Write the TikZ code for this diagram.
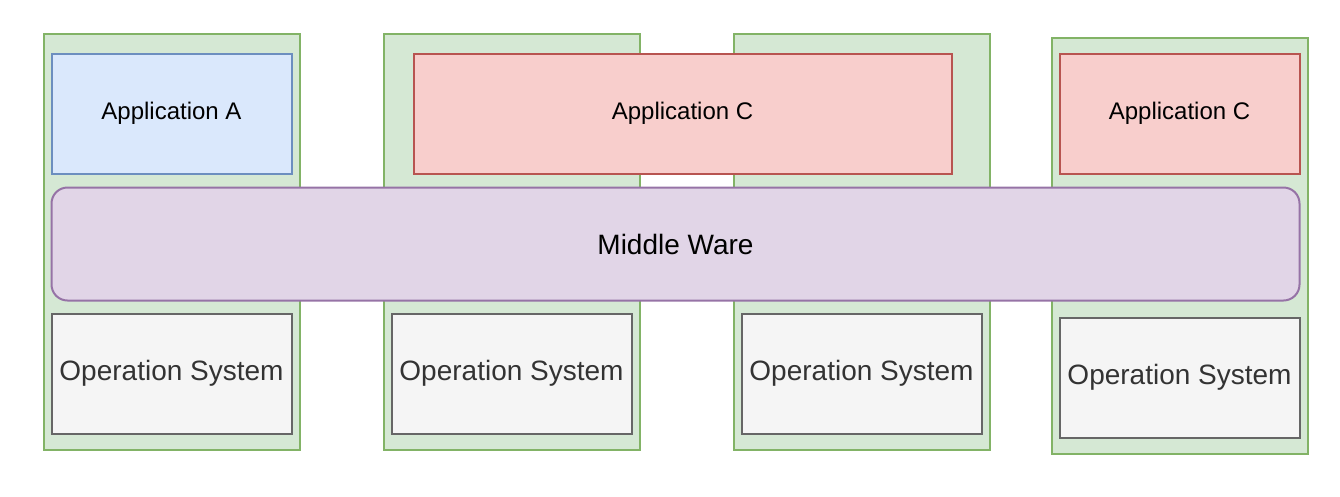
\documentclass[tikz,border=0pt]{standalone}
\usepackage{fontspec}
\setmainfont{Liberation Sans}
\definecolor{gfill}{HTML}{D5E8D4}
\definecolor{gline}{HTML}{82B366}
\definecolor{bfill}{HTML}{DAE8FC}
\definecolor{bline}{HTML}{6C8EBF}
\definecolor{rfill}{HTML}{F8CECC}
\definecolor{rline}{HTML}{B85450}
\definecolor{pfill}{HTML}{E1D5E7}
\definecolor{pline}{HTML}{9673A6}
\definecolor{ofill}{HTML}{F5F5F5}
\definecolor{oline}{HTML}{666666}
\definecolor{otext}{HTML}{333333}
\tikzset{
  base/.style={rectangle, anchor=north west, inner sep=0pt, line width=2pt},
  host/.style={base, fill=gfill, draw=gline, minimum width=256pt, minimum height=416pt},
  appa/.style={base, fill=bfill, draw=bline, minimum height=120pt, font=\fontsize{24}{28}\selectfont},
  appc/.style={base, fill=rfill, draw=rline, minimum height=120pt, font=\fontsize{24}{28}\selectfont},
  mw/.style={base, fill=pfill, draw=pline, rounded corners=16pt, minimum width=1248pt, minimum height=113pt, font=\fontsize{28}{32}\selectfont},
  os/.style={base, fill=ofill, draw=oline, text=otext, minimum width=240pt, minimum height=120pt, font=\fontsize{28}{32}\selectfont},
}
\begin{document}
\begin{tikzpicture}[x=1pt,y=-1pt]
\useasboundingbox (0.5,0.5) rectangle (1340.5,496.5);
\node[host] (h1) at (43,33) {};
\node[host] (h2) at (383,33) {};
\node[host] (h3) at (733,33) {};
\node[host] (h4) at (1051,37) {};
\node[appa, minimum width=240pt] (a) at (51,53) {Application A};
\node[appc, minimum width=538pt] (c1) at (413,53) {Application C};
\node[appc, minimum width=240pt] (c2) at (1059,53) {Application C};
\node[mw] (m) at (51,187) {Middle Ware};
\node[os] (o1) at (51,313) {Operation System};
\node[os] (o2) at (391,313) {Operation System};
\node[os] (o3) at (741,313) {Operation System};
\node[os] (o4) at (1059,317) {Operation System};
\end{tikzpicture}
\end{document}
